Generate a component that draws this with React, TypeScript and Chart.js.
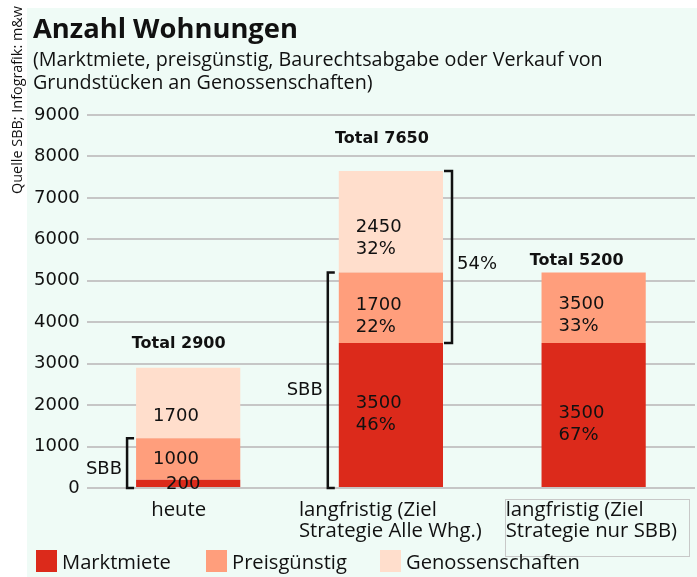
import React, { useEffect, useRef } from 'react';
import { Chart, registerables } from 'chart.js';

Chart.register(...registerables);

// ---------- data ----------
const categoryLines: string[][] = [
  ['heute'],
  ['langfristig (Ziel', 'Strategie Alle Whg.)'],
  ['langfristig (Ziel', 'Strategie nur SBB)'],
];
const categories = categoryLines.map((l) => l.join(' '));
const seriesNames = ['Marktmiete', 'Preisgünstig', 'Genossenschaften'];
const marktmiete = [200, 3500, 3500];
const preisguenstig = [1000, 1700, 1700];
const genossenschaften: (number | null)[] = [1700, 2450, null];
const totals = [2900, 7650, 5200];
const marktLabels = [['200'], ['3500', '46%'], ['3500', '67%']];
const preisLabels = [['1000'], ['1700', '22%'], ['3500', '33%']];
const genoLabels = [['1700'], ['2450', '32%'], []];
const yMax = 9000;
const yStep = 1000;
const titleText = 'Anzahl Wohnungen';
const subtitleLines = [
  '(Marktmiete, preisgünstig, Baurechtsabgabe oder Verkauf von',
  'Grundstücken an Genossenschaften)',
];
const sourceText = 'Quelle SBB; Infografik: m&w';
// brackets: label, bar index, from value, to value, side
const bracketLabels = ['SBB', 'SBB', '54%'];
const bracketBars = [0, 1, 1];
const bracketFrom = [0, 0, 3500];
const bracketTo = [1200, 5200, 7650];
const bracketSides = ['left', 'left', 'right'];

// ---------- styles ----------
const COLORS = ['#dc2a1b', '#ff9e7c', '#ffdecc'];
const MINT = '#effbf6';
const INK = '#111111';
const HUMAN = '"Open Sans", "Noto Sans", sans-serif';
const DEJA = '"DejaVu Sans", sans-serif';

// layout offsets (pixels)
const segDx = [
  [30, 17, 17],
  [17, 17, 17],
  [17, 17, 17],
];
const segDy = [
  [-1, -2, 8],
  [-1.5, 7, 6],
  [11, 15, 0],
];
const totalDx = [-9.5, -9, -17];
const totalDy = [-25.6, -34, -13.6];
const xLabelDx = [-37, -92, -88];
const bracketLabelDy = [4, 8, 6];

function fitSize(ctx: CanvasRenderingContext2D, text: string, weight: string, family: string, target: number) {
  ctx.font = `${weight} 100px ${family}`;
  const w = ctx.measureText(text).width;
  return (100 * target) / w;
}

const decorPlugin = {
  id: 'decor',
  beforeDraw(chart: any) {
    const ctx = chart.ctx as CanvasRenderingContext2D;
    ctx.save();
    ctx.fillStyle = '#ffffff';
    ctx.fillRect(0, 0, chart.width, chart.height);
    ctx.fillStyle = MINT;
    ctx.fillRect(27, 8, chart.width - 27, chart.height - 8);
    ctx.restore();
  },
  afterDatasetsDraw(chart: any) {
    const ctx = chart.ctx as CanvasRenderingContext2D;
    const y = chart.scales.y;
    const labelSets = [marktLabels, preisLabels, genoLabels];
    ctx.save();
    ctx.fillStyle = INK;
    ctx.font = `18px ${DEJA}`;
    ctx.textAlign = 'left';
    ctx.textBaseline = 'alphabetic';
    labelSets.forEach((set, d) => {
      const meta = chart.getDatasetMeta(d);
      set.forEach((lines, i) => {
        const el: any = meta.data[i];
        if (!el || !lines.length) return;
        const left = el.x - el.width / 2;
        const cy = (el.y + el.base) / 2 + segDy[d][i];
        const lh = 22;
        lines.forEach((t, k) => {
          const ly = cy + (k - (lines.length - 1) / 2) * lh + 6.5;
          ctx.fillText(t, left + segDx[d][i], ly);
        });
      });
    });
    // totals
    ctx.font = `bold 16px ${DEJA}`;
    ctx.textAlign = 'center';
    const meta0 = chart.getDatasetMeta(0);
    totals.forEach((t, i) => {
      const el: any = meta0.data[i];
      ctx.fillText(`Total ${t}`, el.x + totalDx[i], y.getPixelForValue(t) + totalDy[i] + 5.8);
    });
    // brackets
    ctx.strokeStyle = INK;
    ctx.lineWidth = 2.5;
    ctx.font = `18px ${DEJA}`;
    bracketLabels.forEach((lab, b) => {
      const el: any = meta0.data[bracketBars[b]];
      const y0 = y.getPixelForValue(bracketFrom[b]);
      const y1 = y.getPixelForValue(bracketTo[b]);
      const left = bracketSides[b] === 'left';
      const edge = left ? el.x - el.width / 2 : el.x + el.width / 2;
      const vx = left ? edge - (b === 0 ? 9 : 11) : edge + 9;
      const tx = left ? vx + 7 : vx - 8;
      ctx.beginPath();
      ctx.moveTo(tx, y1);
      ctx.lineTo(vx, y1);
      ctx.lineTo(vx, y0);
      ctx.lineTo(tx, y0);
      ctx.stroke();
      ctx.textAlign = left ? 'right' : 'left';
      ctx.fillText(lab, left ? vx - 5 : vx + 5, (y0 + y1) / 2 + bracketLabelDy[b] + 6.5);
    });
    ctx.restore();
  },
  afterDraw(chart: any) {
    const ctx = chart.ctx as CanvasRenderingContext2D;
    const meta0 = chart.getDatasetMeta(0);
    ctx.save();
    ctx.fillStyle = INK;
    ctx.textAlign = 'left';
    ctx.textBaseline = 'alphabetic';
    // title
    let s = fitSize(ctx, titleText, 'bold', HUMAN, 265);
    ctx.font = `bold ${s}px ${HUMAN}`;
    ctx.fillText(titleText, 33, 38);
    // subtitle
    s = fitSize(ctx, subtitleLines[0], 'normal', HUMAN, 570);
    ctx.font = `${s}px ${HUMAN}`;
    subtitleLines.forEach((l, k) => ctx.fillText(l, 33, 66 + k * 23));
    // x labels
    s = fitSize(ctx, categoryLines[1][1], 'normal', HUMAN, 183);
    ctx.font = `${s}px ${HUMAN}`;
    categoryLines.forEach((lines, i) => {
      const el: any = meta0.data[i];
      lines.forEach((l, k) => ctx.fillText(l, el.x + xLabelDx[i], 516 + k * 21));
    });
    // grey frame around last category label
    const elL: any = meta0.data[2];
    ctx.strokeStyle = '#c8c8c8';
    ctx.lineWidth = 1;
    ctx.strokeRect(Math.round(elL.x + xLabelDx[2] - 1) + 0.5, 499.5, 184, 57);
    // legend
    s = fitSize(ctx, seriesNames[0], 'normal', HUMAN, 109);
    ctx.font = `${s}px ${HUMAN}`;
    const legendX = [36, 206, 380];
    seriesNames.forEach((n, i) => {
      ctx.fillStyle = COLORS[i];
      ctx.fillRect(legendX[i], 550, 21, 22);
      ctx.fillStyle = INK;
      ctx.fillText(n, legendX[i] + 26, 569);
    });
    // source note, rotated
    s = fitSize(ctx, sourceText, 'normal', HUMAN, 188);
    ctx.font = `${s}px ${HUMAN}`;
    ctx.translate(22, 194);
    ctx.rotate(-Math.PI / 2);
    ctx.fillText(sourceText, 0, 0);
    ctx.restore();
  },
};

export default function App() {
  const ref = useRef<HTMLCanvasElement | null>(null);
  useEffect(() => {
    document.body.style.margin = '0';
    const canvas = ref.current;
    if (!canvas) return;
    const chart = new Chart(canvas, {
      type: 'bar',
      data: {
        labels: categories,
        datasets: [
          { label: seriesNames[0], data: marktmiete, backgroundColor: COLORS[0] },
          { label: seriesNames[1], data: preisguenstig, backgroundColor: COLORS[1] },
          { label: seriesNames[2], data: genossenschaften as any, backgroundColor: COLORS[2] },
        ],
      },
      options: {
        responsive: false,
        animation: false,
        devicePixelRatio: 1,
        layout: { padding: { left: 27, top: 115, right: 2, bottom: 89 } },
        datasets: { bar: { barPercentage: 0.514, categoryPercentage: 1, borderWidth: 0 } },
        plugins: { legend: { display: false }, tooltip: { enabled: false }, title: { display: false } },
        scales: {
          x: { stacked: true, display: false },
          y: {
            stacked: true,
            min: 0,
            max: yMax,
            border: { display: false },
            grid: { color: '#c6c6c6', lineWidth: 2, drawTicks: false },
            ticks: {
              stepSize: yStep,
              padding: 7,
              color: INK,
              font: { family: 'DejaVu Sans', size: 18 },
              callback: (v: any) => String(v),
            },
          },
        },
      },
      plugins: [decorPlugin],
    });
    return () => chart.destroy();
  }, []);
  return <canvas ref={ref} width={697} height={577} style={{ display: 'block', width: 697, height: 577 }} />;
}
